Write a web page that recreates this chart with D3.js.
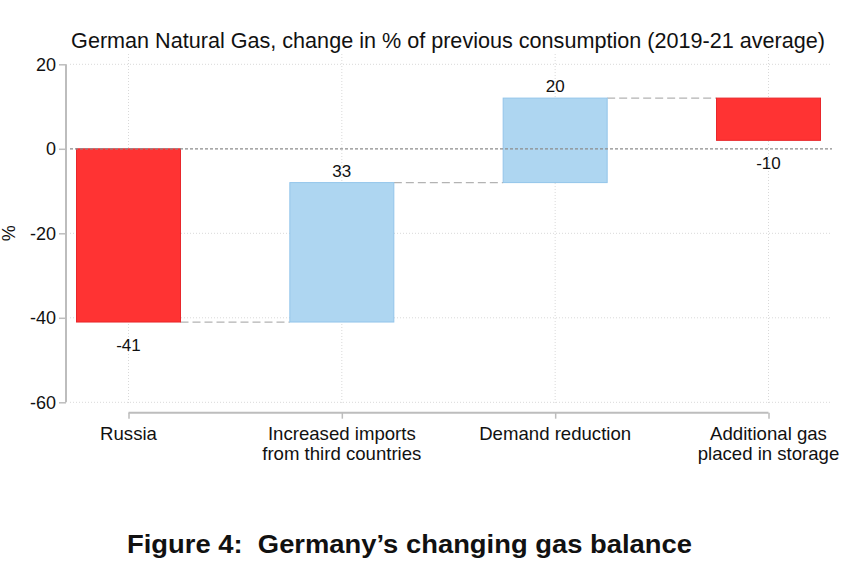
<!doctype html>
<html>
<head>
  <meta charset="utf-8">
  <title>Germany's changing gas balance</title>
  <script src="https://d3js.org/d3.v7.min.js"></script>
  <style>
    body { margin: 0; background: #fff; }
    text { font-family: "Liberation Sans", Arial, sans-serif; fill: #111; }
  </style>
</head>
<body>
  <div id="chart"></div>
  <script>
    // chart data
    var categories = ["Russia", "Increased imports", "Demand reduction", "Additional gas"];
    var categoryLabels = [["Russia"], ["Increased imports", "from third countries"], ["Demand reduction"], ["Additional gas", "placed in storage"]];
    var values = [-41, 33, 20, -10];
    var yTicks = [20, 0, -20, -40, -60];

    var W = 862, H = 573;
    var svg = d3.select("#chart").append("svg")
      .attr("width", W)
      .attr("height", H);

    var x = d3.scalePoint()
      .domain(categories)
      .range([128.5, 768.5]);

    var y = d3.scaleLinear()
      .domain([-60, 20])
      .range([402.3, 64.3]);

    var barWidth = 104;

    // waterfall start/end for each step
    var steps = [];
    var running = 0;
    values.forEach(function (v, i) {
      steps.push({ cat: categories[i], value: v, start: running, end: running + v });
      running += v;
    });

    // gridlines
    var grid = svg.append("g");
    grid.selectAll(".hgrid")
      .data(yTicks.filter(function (d) { return d !== 0; }))
      .enter().append("line")
      .attr("x1", 70).attr("x2", 832)
      .attr("y1", function (d) { return y(d); })
      .attr("y2", function (d) { return y(d); })
      .attr("stroke", "#d9d9d9")
      .attr("stroke-width", 1)
      .attr("stroke-dasharray", "1,2");

    grid.selectAll(".vgrid")
      .data(categories)
      .enter().append("line")
      .attr("x1", function (d) { return x(d); })
      .attr("x2", function (d) { return x(d); })
      .attr("y1", 54).attr("y2", 405)
      .attr("stroke", "#d9d9d9")
      .attr("stroke-width", 1)
      .attr("stroke-dasharray", "1,2");

    // connectors between bars
    svg.selectAll(".connector")
      .data(steps.slice(0, steps.length - 1))
      .enter().append("line")
      .attr("x1", function (d) { return x(d.cat) + barWidth / 2; })
      .attr("x2", function (d, i) { return x(categories[i + 1]) - barWidth / 2; })
      .attr("y1", function (d) { return y(d.end); })
      .attr("y2", function (d) { return y(d.end); })
      .attr("stroke", "#b3b3b3")
      .attr("stroke-width", 1.2)
      .attr("stroke-dasharray", "8,4");

    // bars
    svg.selectAll(".bar")
      .data(steps)
      .enter().append("rect")
      .attr("x", function (d) { return x(d.cat) - barWidth / 2; })
      .attr("width", barWidth)
      .attr("y", function (d) { return y(Math.max(d.start, d.end)); })
      .attr("height", function (d) { return Math.abs(y(d.start) - y(d.end)); })
      .attr("fill", function (d) { return d.value < 0 ? "#ff3333" : "#aed6f1"; })
      .attr("stroke", function (d) { return d.value < 0 ? "#e8262b" : "#93c5ea"; })
      .attr("stroke-width", 1);

    // zero line
    svg.append("line")
      .attr("x1", 70).attr("x2", 832)
      .attr("y1", y(0)).attr("y2", y(0))
      .attr("stroke", "#8c8c8c")
      .attr("stroke-width", 1.2)
      .attr("stroke-dasharray", "3,2");

    // value labels
    svg.selectAll(".vlabel")
      .data(steps)
      .enter().append("text")
      .attr("x", function (d) { return x(d.cat); })
      .attr("y", function (d) {
        return d.value < 0 ? y(Math.min(d.start, d.end)) + 29 : y(Math.max(d.start, d.end)) - 6;
      })
      .attr("text-anchor", "middle")
      .style("font-size", "17px")
      .text(function (d) { return d.value; });

    // y axis
    var yAxis = svg.append("g")
      .attr("transform", "translate(66,0)")
      .call(d3.axisLeft(y).tickValues(yTicks).tickSize(7).tickPadding(3)
        .tickFormat(function (d) { return String(d); }));
    yAxis.select(".domain").attr("stroke", "#bdbdbd").attr("stroke-width", 2)
      .attr("d", "M0," + y(20) + "V" + y(-60));
    yAxis.selectAll(".tick line").attr("stroke", "#bdbdbd").attr("stroke-width", 1.5);
    yAxis.selectAll(".tick text")
      .style("font-size", "18px")
      .style("font-family", "'Liberation Sans', Arial, sans-serif")
      .attr("fill", "#111");

    // x axis
    var xAxis = svg.append("g")
      .attr("transform", "translate(0,412.7)")
      .call(d3.axisBottom(x).tickSize(6).tickFormat(""));
    xAxis.select(".domain").attr("stroke", "#bdbdbd").attr("stroke-width", 2)
      .attr("d", "M" + x(categories[0]) + ",0H" + x(categories[categories.length - 1]));
    xAxis.selectAll(".tick line").attr("stroke", "#bdbdbd").attr("stroke-width", 1.5);

    svg.selectAll(".xlabel")
      .data(categories)
      .enter().append("text")
      .attr("x", function (d) { return x(d); })
      .attr("y", 440)
      .attr("text-anchor", "middle")
      .style("font-size", "18.6px")
      .selectAll("tspan")
      .data(function (d, i) { return categoryLabels[i]; })
      .enter().append("tspan")
      .attr("x", function () { return x(d3.select(this.parentNode).datum()); })
      .attr("dy", function (d, i) { return i === 0 ? 0 : 20; })
      .text(function (d) { return d; });

    // y axis title
    svg.append("text")
      .attr("transform", "translate(15," + y(-20) + ") rotate(-90)")
      .attr("text-anchor", "middle")
      .style("font-size", "18px")
      .text("%");

    // chart title
    svg.append("text")
      .attr("x", 448)
      .attr("y", 48)
      .attr("text-anchor", "middle")
      .style("font-size", "21.6px")
      .text("German Natural Gas, change in % of previous consumption (2019-21 average)");

    // figure caption
    svg.append("text")
      .attr("x", 127)
      .attr("y", 553)
      .attr("textLength", 565)
      .attr("lengthAdjust", "spacingAndGlyphs")
      .style("font-size", "26px")
      .style("font-weight", "bold")
      .text("Figure 4:\u00a0 Germany\u2019s changing gas balance");
  </script>
</body>
</html>
